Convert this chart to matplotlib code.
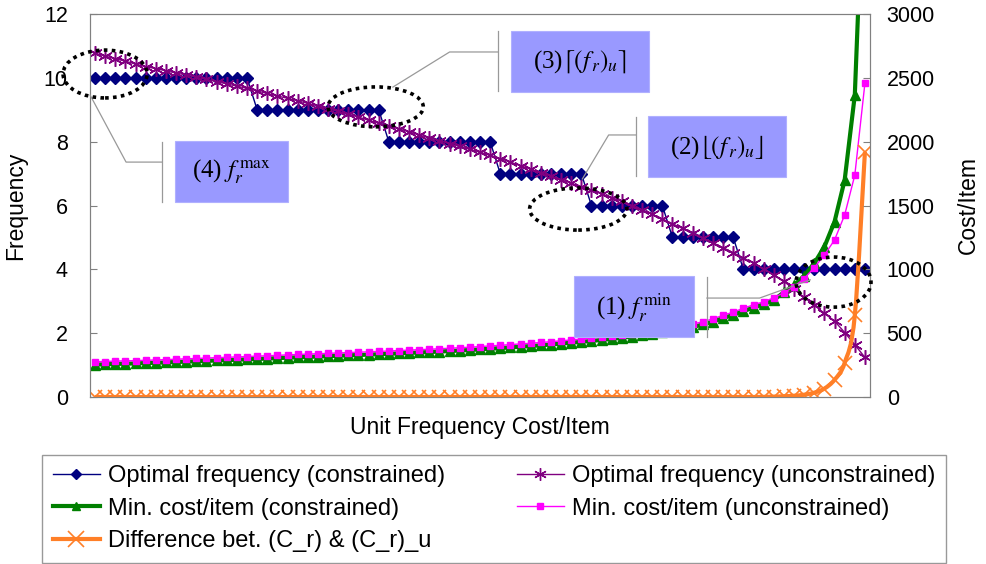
import matplotlib.pyplot as plt
import numpy as np
from matplotlib.lines import Line2D
from matplotlib.patches import Ellipse, Rectangle, PathPatch
from matplotlib.path import Path

plt.rcParams["font.family"] = ["Liberation Sans", "DejaVu Sans"]
plt.rcParams["mathtext.fontset"] = "stix"

# values (x = position along the unit frequency cost axis)
freq_constrained = [
    10, 10, 10, 10, 10, 10, 10, 10, 10, 10, 10, 10, 10, 10, 10, 10,
    9, 9, 9, 9, 9, 9, 9, 9, 9, 9, 9, 9, 9,
    8, 8, 8, 8, 8, 8, 8, 8, 8, 8, 8,
    7, 7, 7, 7, 7, 7, 7, 7, 7,
    6, 6, 6, 6, 6, 6, 6, 6,
    5, 5, 5, 5, 5, 5, 5,
    4, 4, 4, 4, 4, 4, 4, 4, 4, 4, 4, 4, 4,
]
freq_unconstrained = [
    10.77, 10.68, 10.60, 10.52, 10.43, 10.35, 10.29, 10.22, 10.15, 10.09,
    10.02, 9.95, 9.88, 9.81, 9.74, 9.67, 9.59, 9.51, 9.43, 9.36,
    9.28, 9.20, 9.12, 9.03, 8.95, 8.86, 8.77, 8.67, 8.58, 8.49,
    8.40, 8.31, 8.21, 8.12, 8.03, 7.94, 7.85, 7.76, 7.67, 7.57,
    7.47, 7.36, 7.25, 7.14, 7.03, 6.92, 6.81, 6.70, 6.59, 6.48,
    6.37, 6.25, 6.13, 6.00, 5.86, 5.72, 5.58, 5.43, 5.28, 5.13,
    4.98, 4.83, 4.68, 4.52, 4.36, 4.19, 4.01, 3.82, 3.62, 3.38,
    3.12, 2.88, 2.62, 2.38, 2.02, 1.64, 1.24,
]
cost_constrained = [
    254, 256, 259, 261, 263, 266, 268, 271, 274, 277,
    280, 283, 286, 289, 292, 295, 298, 301, 304, 308,
    311, 314, 317, 320, 323, 326, 329, 332, 335, 338,
    342, 345, 349, 352, 356, 360, 364, 368, 373, 378,
    383, 388, 394, 399, 405, 411, 418, 425, 432, 439,
    447, 455, 464, 473, 483, 494, 506, 519, 533, 548,
    568, 590, 618, 643, 673, 700, 726, 760, 820, 875,
    950, 1047, 1177, 1373, 1700, 2365, 4380,
]
cost_unconstrained = [
    276, 278, 281, 283, 285, 288, 290, 293, 296, 299,
    302, 305, 308, 311, 314, 317, 320, 323, 326, 330,
    333, 336, 339, 342, 345, 348, 351, 354, 357, 360,
    364, 367, 371, 374, 378, 382, 386, 390, 395, 400,
    405, 410, 416, 421, 427, 433, 440, 447, 454, 461,
    469, 477, 486, 495, 505, 516, 528, 541, 555, 570,
    590, 612, 640, 665, 695, 722, 746, 777, 817, 864,
    928, 1014, 1112, 1230, 1426, 1738, 2459,
]
cost_difference = [
    0, 0, 0, 0, 0, 0, 0, 0, 0, 0,
    0, 0, 0, 0, 0, 0, 0, 0, 0, 0,
    0, 0, 0, 0, 0, 0, 0, 0, 0, 0,
    0, 0, 0, 0, 0, 0, 0, 0, 0, 0,
    0, 0, 0, 0, 0, 0, 0, 0, 0, 0,
    0, 0, 0, 0, 0, 0, 0, 0, 0, 0,
    0, 0, 0, 0, 0, 0, 1, 3, 6, 10,
    18, 34, 66, 135, 268, 640, 1921,
]

labels = [
    "Optimal frequency (constrained)",
    "Min. cost/item (constrained)",
    "Difference bet. (C_r) & (C_r)_u",
    "Optimal frequency (unconstrained)",
    "Min. cost/item (unconstrained)",
]

# callouts: text, box (x0, x1, y0, y1), ellipse (cx, cy, w, h), leader path, bar x, bar (y0, y1)
# all in left-axis data units
callouts = [
    (r"(4) $f_r^{\,\max}$", (7.9, 19.05, 6.11, 8.02), (0.99, 10.12, 8.3, 1.50),
     [(6.61, 7.36), (3.06, 7.36), (-0.49, 9.46)], 6.61, (6.11, 7.99)),
    (r"(3)$\left\lceil(f_{\,r})_u\right\rceil$", (41.1, 54.7, 9.55, 11.47), (27.7, 9.09, 9.4, 1.25),
     [(39.8, 10.81), (35.0, 10.81), (29.4, 9.71)], 39.8, (9.59, 11.47)),
    (r"(2)$\left\lfloor(f_{\,r})_u\right\rfloor$", (54.6, 68.2, 6.89, 8.80), (47.7, 5.89, 9.6, 1.32),
     [(53.4, 8.21), (50.7, 8.21), (48.1, 6.83)], 53.4, (6.92, 8.77)),
    (r"(1) $f_r^{\,\min}$", (47.3, 59.1, 1.88, 3.79), (72.9, 3.60, 7.4, 1.57),
     [(60.4, 3.10), (65.6, 3.10), (70.6, 3.67)], 60.4, (1.88, 3.76)),
]


def smooth_path(x, y):
    x = np.asarray(x, float)
    y = np.asarray(y, float)
    n = len(x)
    verts = [(x[0], y[0])]
    codes = [Path.MOVETO]
    for i in range(n - 1):
        p0 = max(i - 1, 0)
        p3 = min(i + 2, n - 1)
        c1 = (x[i] + (x[i + 1] - x[p0]) / 6, y[i] + (y[i + 1] - y[p0]) / 6)
        c2 = (x[i + 1] - (x[p3] - x[i]) / 6, y[i + 1] - (y[p3] - y[i]) / 6)
        verts += [c1, c2, (x[i + 1], y[i + 1])]
        codes += [Path.CURVE4] * 3
    return Path(verts, codes)


fig = plt.figure(figsize=(9.86, 5.64), dpi=100)
ax = fig.add_axes([90 / 986, 167 / 564, 780 / 986, 383 / 564])
ax2 = ax.twinx()
idx = np.arange(len(freq_constrained))

blue, purple, green, pink, orange = "#000080", "#800080", "#008000", "#FF00FF", "#FF7F27"

ax.plot(idx, freq_constrained, color=blue, lw=1, marker="D", ms=6.5)
ax.plot(idx, freq_unconstrained, color=purple, lw=1, marker=(6, 2, 0), ms=10.5, mew=1.1)
ax2.plot(idx, cost_constrained, color=green, lw=3, marker="^", ms=7)
ax2.plot(idx, cost_unconstrained, color=pink, lw=1, marker="s", ms=4.5)
ax2.add_patch(PathPatch(smooth_path(idx, cost_difference), fill=False,
                        edgecolor=orange, lw=3))
ax2.plot(idx, cost_difference, ls="none", marker="x", ms=10.5, mew=1.2, color=orange)

ax.set_xlim(-0.5, len(idx) - 0.5)
ax.set_ylim(0, 12)
ax.set_yticks(range(0, 13, 2))
ax2.set_ylim(0, 3000)
ax2.set_yticks(range(0, 3001, 500))
ax.set_xticks([])
for a in (ax, ax2):
    for s in a.spines.values():
        s.set_color("#808080")
    a.tick_params(direction="in", length=5, color="#808080", labelsize=15.5)
ax.tick_params(axis="y", pad=16)
ax2.tick_params(axis="y", pad=12)

ax.set_ylabel("Frequency", fontsize=16.5)
ax.yaxis.set_label_coords(-0.08, 0.5)
ax2.set_ylabel("Cost/Item", fontsize=16.5)
ax2.yaxis.set_label_coords(1.112, 0.5)
ax.set_xlabel("Unit Frequency Cost/Item", fontsize=16.5, labelpad=14)

for text, (bx0, bx1, by0, by1), (ex, ey, ew, eh), leader, barx, (bar0, bar1) in callouts:
    ax2.add_patch(Rectangle((bx0, by0), bx1 - bx0, by1 - by0, transform=ax.transData,
                            facecolor="#9999FF", edgecolor="#B0B0FF", lw=0.8,
                            clip_on=False, zorder=5))
    ax2.text((bx0 + bx1) / 2, (by0 + by1) / 2, text, transform=ax.transData,
             ha="center", va="center", fontsize=18,
             family=["Liberation Serif", "DejaVu Serif"], zorder=6)
    ax2.add_patch(Ellipse((ex, ey), ew, eh, transform=ax.transData, fill=False,
                          edgecolor="black", lw=2.6, ls=(0, (1, 1.2)),
                          clip_on=False, zorder=6))
    lx, ly = zip(*leader)
    ax2.add_line(Line2D(lx, ly, transform=ax.transData, color="#999999",
                        lw=0.9, clip_on=False, zorder=4))
    ax2.add_line(Line2D([barx, barx], [bar0, bar1], transform=ax.transData,
                        color="#999999", lw=0.9, clip_on=False, zorder=4))

handles = [
    Line2D([], [], color=blue, lw=1, marker="D", ms=5),
    Line2D([], [], color=green, lw=3, marker="^", ms=6),
    Line2D([], [], color=orange, lw=3, marker="x", ms=12, mew=1.2),
    Line2D([], [], color=purple, lw=1, marker=(6, 2, 0), ms=9),
    Line2D([], [], color=pink, lw=1, marker="s", ms=4),
]
leg = fig.legend(handles, labels, ncol=2, loc="lower left", mode="expand",
                 bbox_to_anchor=(42 / 986, 1 / 564, 904 / 986, 0.2),
                 borderaxespad=0, fancybox=False, edgecolor="#808080",
                 handlelength=2.0, handletextpad=0.35, labelspacing=0.45,
                 borderpad=0.45, prop={"size": 17})
leg.get_frame().set_linewidth(1.0)

fig.savefig("out.png", dpi=100)
